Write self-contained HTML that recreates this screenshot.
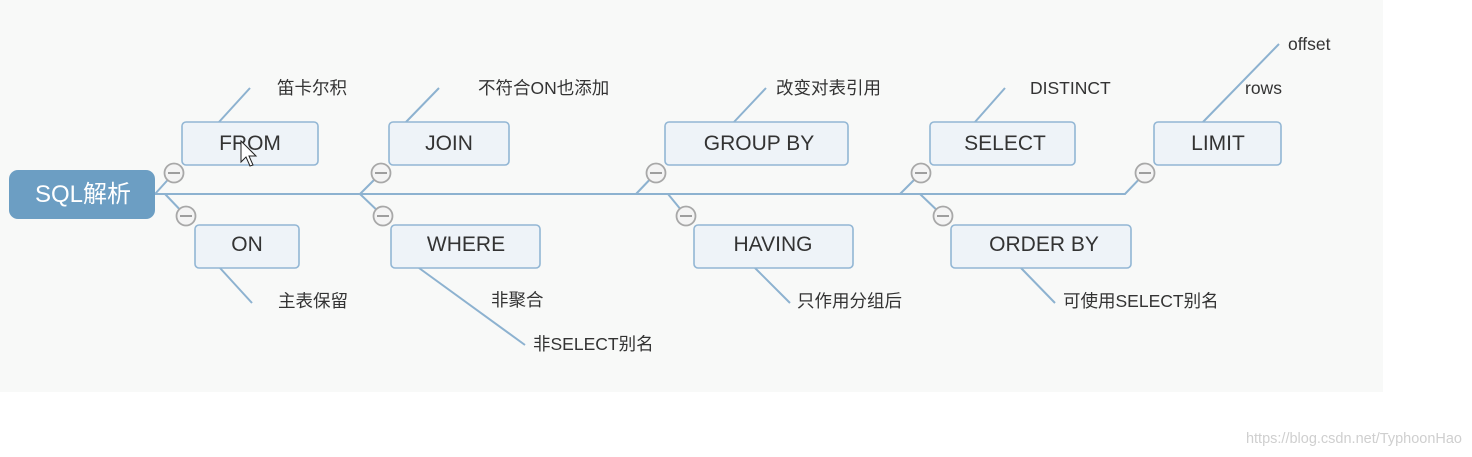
<!DOCTYPE html>
<html><head><meta charset="utf-8"><style>
html,body{margin:0;padding:0;background:#fff;}
svg{display:block;}
text{font-family:"Liberation Sans","Noto Sans CJK SC",sans-serif;fill:#333;}
.b{font-size:21px;text-anchor:middle;}
.l{font-size:17.5px;}
</style></head><body>
<svg width="1472" height="457" viewBox="0 0 1472 457" xmlns="http://www.w3.org/2000/svg">
<rect x="0" y="0" width="1383" height="392" fill="#f8f9f8"/>
<g stroke="#8db2d0" stroke-width="2" fill="none">
<polyline points="155,194 1125,194 1145,173"/>
<line x1="155" y1="194" x2="174" y2="173"/><line x1="165" y1="194" x2="186" y2="216"/>
<line x1="360" y1="194" x2="381" y2="173"/><line x1="360" y1="194" x2="383" y2="216"/>
<line x1="636" y1="194" x2="656" y2="173"/><line x1="668" y1="194" x2="686" y2="216"/>
<line x1="900" y1="194" x2="921" y2="173"/><line x1="920" y1="194" x2="943" y2="216"/>
<line x1="219" y1="122" x2="250" y2="88"/>
<line x1="406" y1="122" x2="439" y2="88"/>
<line x1="734" y1="122" x2="766" y2="88"/>
<line x1="975" y1="122" x2="1005" y2="88"/>
<line x1="1203" y1="122" x2="1279" y2="44"/>
<line x1="220" y1="268" x2="252" y2="303"/>
<line x1="419" y1="268" x2="525" y2="345"/>
<line x1="755" y1="268" x2="790" y2="303"/>
<line x1="1021" y1="268" x2="1055" y2="303"/>
</g>
<rect x="9" y="170" width="146" height="49" rx="9" fill="#6c9ec3"/>
<text x="83" y="202" font-size="24" text-anchor="middle" style="fill:#fff">SQL解析</text>
<g fill="#eef3f8" stroke="#92b6d4" stroke-width="1.6">
<rect x="182" y="122" width="136" height="43" rx="4"/>
<rect x="195" y="225" width="104" height="43" rx="4"/>
<rect x="389" y="122" width="120" height="43" rx="4"/>
<rect x="391" y="225" width="149" height="43" rx="4"/>
<rect x="665" y="122" width="183" height="43" rx="4"/>
<rect x="694" y="225" width="159" height="43" rx="4"/>
<rect x="930" y="122" width="145" height="43" rx="4"/>
<rect x="951" y="225" width="180" height="43" rx="4"/>
<rect x="1154" y="122" width="127" height="43" rx="4"/>
</g>
<g fill="#f4f4f4" stroke="#a8a8a8" stroke-width="1.8">
<circle cx="174" cy="173" r="9.5"/><circle cx="186" cy="216" r="9.5"/>
<circle cx="381" cy="173" r="9.5"/><circle cx="383" cy="216" r="9.5"/>
<circle cx="656" cy="173" r="9.5"/><circle cx="686" cy="216" r="9.5"/>
<circle cx="921" cy="173" r="9.5"/><circle cx="943" cy="216" r="9.5"/>
<circle cx="1145" cy="173" r="9.5"/>
</g>
<g stroke="#888" stroke-width="1.6">
<line x1="168" y1="173" x2="180" y2="173"/><line x1="180" y1="216" x2="192" y2="216"/>
<line x1="375" y1="173" x2="387" y2="173"/><line x1="377" y1="216" x2="389" y2="216"/>
<line x1="650" y1="173" x2="662" y2="173"/><line x1="680" y1="216" x2="692" y2="216"/>
<line x1="915" y1="173" x2="927" y2="173"/><line x1="937" y1="216" x2="949" y2="216"/>
<line x1="1139" y1="173" x2="1151" y2="173"/>
</g>
<text class="b" x="250" y="150">FROM</text>
<text class="b" x="247" y="251">ON</text>
<text class="b" x="449" y="150">JOIN</text>
<text class="b" x="466" y="251">WHERE</text>
<text class="b" x="759" y="150">GROUP BY</text>
<text class="b" x="773" y="251">HAVING</text>
<text class="b" x="1005" y="150">SELECT</text>
<text class="b" x="1044" y="251">ORDER BY</text>
<text class="b" x="1218" y="150">LIMIT</text>
<text class="l" x="277" y="94">笛卡尔积</text>
<text class="l" x="478" y="94">不符合ON也添加</text>
<text class="l" x="776" y="94">改变对表引用</text>
<text class="l" x="1030" y="94">DISTINCT</text>
<text class="l" x="1288" y="50">offset</text>
<text class="l" x="1245" y="94">rows</text>
<text class="l" x="278" y="307">主表保留</text>
<text class="l" x="491" y="306">非聚合</text>
<text class="l" x="533" y="350">非SELECT别名</text>
<text class="l" x="797" y="307">只作用分组后</text>
<text class="l" x="1063" y="307">可使用SELECT别名</text>
<path d="M241,141 L241,162 L246,157 L250,166 L253,165 L249,156 L256,156 Z" fill="#fff" stroke="#222" stroke-width="1"/>
<text x="1462" y="443" font-size="14.5" text-anchor="end" style="fill:#cfcfcf">https://blog.csdn.net/TyphoonHao</text>
</svg>
</body></html>
